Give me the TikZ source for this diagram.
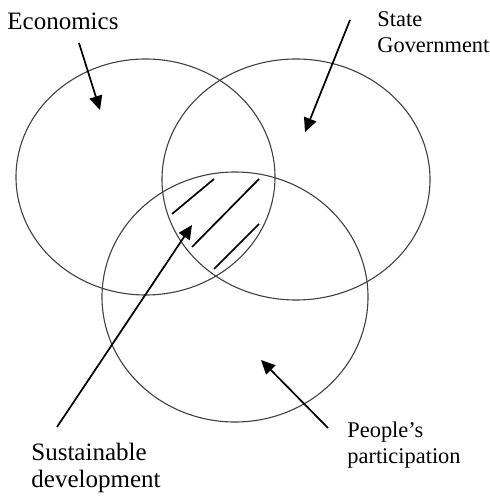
\documentclass[tikz,border=0pt]{standalone}
\usepackage{fontspec}
\setmainfont{Liberation Serif}
\usetikzlibrary{arrows.meta,shapes.geometric}
\begin{document}
\begin{tikzpicture}[x=0.5pt,y=-0.5pt,
  setring/.style={ellipse,draw=black!75,line width=0.55pt,inner sep=0pt},
  pointer/.style={-{Triangle[length=7pt,width=6.5pt]},line width=0.85pt},
  hatch/.style={line width=0.85pt},
  biglabel/.style={anchor=base west,inner sep=0pt,font=\fontsize{12.5pt}{13.5pt}\selectfont},
  smalllabel/.style={anchor=base west,inner sep=0pt,font=\fontsize{11.2pt}{13pt}\selectfont}]
\useasboundingbox (0,0) rectangle (490,496);

% the three overlapping sets
\node[setring,minimum width=259pt*0.5,minimum height=236pt*0.5] (eco) at (145.5,177) {};
\node[setring,minimum width=268pt*0.5,minimum height=241pt*0.5] (gov) at (296,179.5) {};
\node[setring,minimum width=266pt*0.5,minimum height=250pt*0.5] (ppl) at (235,297) {};

% hatching of the common region
\draw[hatch] (172,214) -- (214,179);
\draw[hatch] (192,247) -- (259,179);
\draw[hatch] (214,269) -- (259,224);

% labels
\node[biglabel] (ecoT) at (7,30) {Economics};
\node[smalllabel] (govT1) at (377,27) {State};
\node[smalllabel] (govT2) at (377,53) {Government};
\node[biglabel] (susT1) at (31,460) {Sustainable};
\node[biglabel] (susT2) at (31,487) {development};
\node[smalllabel] (pplT1) at (347,437) {People’s};
\node[smalllabel] (pplT2) at (347,463) {participation};

% arrow ends
\coordinate (ecoA) at (79,43);   \coordinate (ecoB) at (100,110);
\coordinate (govA) at (350,20);  \coordinate (govB) at (305,132);
\coordinate (susA) at (57,427);  \coordinate (susB) at (192,225);
\coordinate (pplA) at (328,428); \coordinate (pplB) at (261,360);

\draw[pointer] (ecoA) -- (ecoB);
\draw[pointer] (govA) -- (govB);
\draw[pointer] (susA) -- (susB);
\draw[pointer] (pplA) -- (pplB);
\end{tikzpicture}
\end{document}
